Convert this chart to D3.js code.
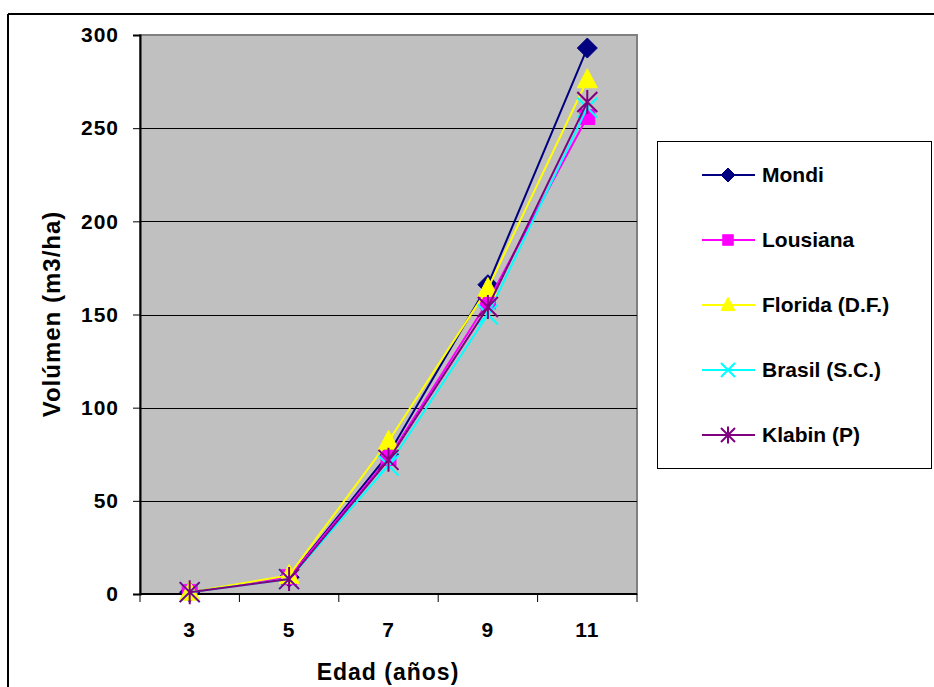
<!DOCTYPE html>
<html>
<head>
<meta charset="utf-8">
<script src="https://cdn.jsdelivr.net/npm/d3@7"></script>
<style>
  html, body { margin: 0; padding: 0; background: #fff; }
  svg { display: block; }
  text { font-family: "Liberation Sans", Arial, sans-serif; font-weight: bold; fill: #000; }
</style>
</head>
<body>
<svg id="chart" width="934" height="687"></svg>
<script>
// Edad (años) en el eje X
const ages = ["3", "5", "7", "9", "11"];
// Volumen (m3/ha) por procedencia
const mondi    = [1, 9, 75, 166, 293];
const lousiana = [1, 9, 73, 157, 256];
const florida  = [1, 10, 82, 164, 276];
const brasil   = [1, 8, 69, 150, 261];
const klabin   = [1, 8, 72, 154, 264];
const seriesNames = ["Mondi", "Lousiana", "Florida (D.F.)", "Brasil (S.C.)", "Klabin (P)"];
const yTicks = [0, 50, 100, 150, 200, 250, 300];

const seriesValues = [mondi, lousiana, florida, brasil, klabin];
const colors = ["#000080", "#FF00FF", "#FFFF00", "#00FFFF", "#800080"];
const markers = ["diamond", "square", "triangle", "cross", "star"];

const svg = d3.select("#chart");

const plot = { left: 140, right: 637, top: 35, bottom: 594 };

const x = d3.scaleBand().domain(ages).range([plot.left, plot.right]);
const y = d3.scaleLinear().domain([0, 300]).range([plot.bottom, plot.top]);
const cx = d => x(d) + x.bandwidth() / 2;

// chart area frame (top and left edges)
svg.append("line").attr("x1", 8).attr("x2", 934).attr("y1", 14).attr("y2", 14)
  .attr("stroke", "#000").attr("stroke-width", 2);
svg.append("line").attr("x1", 8).attr("x2", 8).attr("y1", 14).attr("y2", 687)
  .attr("stroke", "#000").attr("stroke-width", 2);

// plot area background
svg.append("rect")
  .attr("x", plot.left).attr("y", plot.top)
  .attr("width", plot.right - plot.left).attr("height", plot.bottom - plot.top)
  .attr("fill", "#C0C0C0").attr("stroke", "#808080").attr("stroke-width", 2);

// horizontal gridlines
svg.append("g").selectAll("line")
  .data(yTicks.filter(v => v > 0 && v < 300))
  .join("line")
  .attr("x1", plot.left).attr("x2", plot.right)
  .attr("y1", d => Math.round(y(d)) + 0.5).attr("y2", d => Math.round(y(d)) + 0.5)
  .attr("stroke", "#000").attr("stroke-width", 1);

const tickFont = sel => sel
  .style("font-size", "21px").style("letter-spacing", "1px")
  .style("font-family", "'Liberation Sans', Arial, sans-serif").style("font-weight", "bold");

// y axis
const yAxis = svg.append("g")
  .attr("transform", `translate(${plot.left},0)`)
  .call(d3.axisLeft(y).tickValues(yTicks).tickSize(7).tickPadding(14).tickFormat(d3.format("d")));
yAxis.select(".domain").attr("stroke", "#000").attr("stroke-width", 2);
yAxis.selectAll(".tick line").attr("stroke", "#000").attr("stroke-width", 1);
yAxis.selectAll(".tick text").call(tickFont);

// x axis: labels centred on categories, ticks on category boundaries
const xAxis = svg.append("g")
  .attr("transform", `translate(0,${plot.bottom})`)
  .call(d3.axisBottom(x).tickSize(0).tickPadding(28));
xAxis.select(".domain").remove();
xAxis.selectAll(".tick text").call(tickFont);

const boundaries = ages.map(a => x(a)).concat([x(ages[ages.length - 1]) + x.bandwidth()]);
svg.append("g").selectAll("line")
  .data(boundaries)
  .join("line")
  .attr("x1", d => d).attr("x2", d => d)
  .attr("y1", plot.bottom).attr("y2", plot.bottom + 8)
  .attr("stroke", "#000").attr("stroke-width", 1);
svg.append("line")
  .attr("x1", plot.left).attr("x2", plot.right)
  .attr("y1", plot.bottom).attr("y2", plot.bottom)
  .attr("stroke", "#000").attr("stroke-width", 2);

// axis titles
svg.append("text")
  .attr("x", 388).attr("y", 680)
  .attr("text-anchor", "middle")
  .style("font-size", "23px").style("letter-spacing", "1px")
  .text("Edad (años)");
svg.append("text")
  .attr("transform", "translate(60,314) rotate(-90)")
  .attr("text-anchor", "middle")
  .style("font-size", "24px").style("letter-spacing", "1px")
  .text("Volúmen (m3/ha)");

// marker drawing; r is the half-width of the symbol
function drawMarker(g, type, color, px, py, r) {
  if (type === "diamond") {
    g.append("path")
      .attr("d", `M${px},${py - r}L${px + r},${py}L${px},${py + r}L${px - r},${py}Z`)
      .attr("fill", color).attr("stroke", color).attr("stroke-width", 1);
  } else if (type === "square") {
    const h = r * 0.75;
    g.append("rect").attr("x", px - h).attr("y", py - h).attr("width", 2 * h).attr("height", 2 * h)
      .attr("fill", color).attr("stroke", color).attr("stroke-width", 1);
  } else if (type === "triangle") {
    g.append("path")
      .attr("d", `M${px},${py - r * 1.1}L${px + r},${py + r * 0.8}L${px - r},${py + r * 0.8}Z`)
      .attr("fill", color).attr("stroke", color).attr("stroke-width", 1);
  } else if (type === "cross") {
    g.append("path")
      .attr("d", `M${px - r},${py - r}L${px + r},${py + r}M${px - r},${py + r}L${px + r},${py - r}`)
      .attr("stroke", color).attr("stroke-width", 2).attr("fill", "none");
  } else if (type === "star") {
    g.append("path")
      .attr("d", `M${px - r},${py - r}L${px + r},${py + r}M${px - r},${py + r}L${px + r},${py - r}M${px},${py - r * 1.2}L${px},${py + r * 1.2}`)
      .attr("stroke", color).attr("stroke-width", 2).attr("fill", "none");
  }
}

// series lines and markers
const line = d3.line().x((d, i) => cx(ages[i])).y(d => y(d));
seriesValues.forEach((vals, s) => {
  const g = svg.append("g");
  g.append("path").datum(vals)
    .attr("d", line)
    .attr("fill", "none").attr("stroke", colors[s]).attr("stroke-width", 2);
  vals.forEach((v, i) => drawMarker(g, markers[s], colors[s], cx(ages[i]), y(v), 10));
});

// legend
const legend = svg.append("g");
legend.append("rect")
  .attr("x", 657.5).attr("y", 141.5).attr("width", 274).attr("height", 327)
  .attr("fill", "#fff").attr("stroke", "#000").attr("stroke-width", 1);
seriesNames.forEach((name, s) => {
  const ly = 175 + s * 65;
  const item = legend.append("g");
  item.append("line").attr("x1", 702).attr("x2", 755).attr("y1", ly).attr("y2", ly)
    .attr("stroke", colors[s]).attr("stroke-width", 2);
  drawMarker(item, markers[s], colors[s], 728, ly, 7);
  item.append("text").attr("x", 762).attr("y", ly + 7)
    .style("font-size", "21px")
    .text(name);
});
</script>
</body>
</html>
